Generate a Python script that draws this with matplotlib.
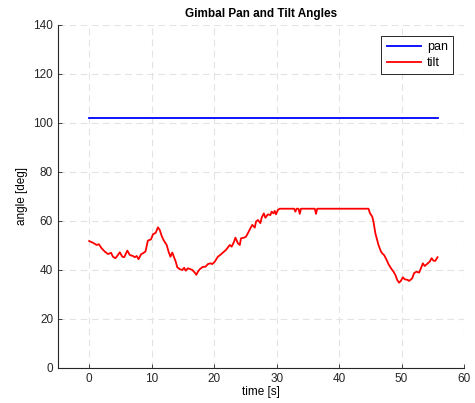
import matplotlib
matplotlib.use('Agg')
import matplotlib.pyplot as plt

# tilt samples (time [s], angle [deg])
tilt_time = [0.0, 0.6, 1.2, 1.55, 2.0, 2.5, 3.0, 3.5, 3.8, 4.2, 4.6, 4.9, 5.3, 5.6,
             6.1, 6.5, 7.0, 7.3, 7.6, 7.9, 8.3, 8.6, 9.0, 9.4, 9.9, 10.2, 10.65, 11.0,
             11.3, 11.6, 11.9, 12.4, 12.7, 13.0, 13.3, 13.5, 13.85, 14.1, 14.5, 14.9,
             15.2, 15.45, 15.8, 16.2, 16.5, 16.9, 17.15, 17.4, 17.7, 18.2, 18.6, 19.0,
             19.4, 19.7, 20.1, 20.6, 21.1, 21.9, 22.5, 22.8, 23.2, 23.4, 23.8, 24.1,
             24.3, 24.8, 25.1, 25.4, 25.8, 26.1, 26.5, 26.7, 27.0, 27.4, 27.6, 27.95,
             28.2, 28.6, 29.0, 29.2, 29.5, 29.7, 29.9, 30.2, 30.5, 32.8, 33.0, 33.2,
             33.5, 33.7, 33.9, 36.1, 36.3, 36.5, 44.7, 44.95, 45.3, 45.5, 45.8, 46.1,
             46.3, 46.7, 47.0, 47.2, 47.6, 47.9, 48.3, 48.7, 49.0, 49.3, 49.6, 49.9,
             50.2, 50.5, 51.0, 51.2, 51.7, 52.0, 52.4, 52.8, 53.1, 53.4, 53.7, 54.2,
             54.5, 54.8, 55.1, 55.4, 55.75]
tilt_angle = [51.8, 51.1, 50.2, 50.5, 48.8, 47.5, 46.5, 47.0, 45.4, 44.8, 46.1, 47.2,
              45.4, 45.2, 47.9, 46.1, 45.7, 45.2, 45.7, 44.4, 46.4, 46.8, 47.5, 52.0,
              52.5, 54.5, 55.2, 57.4, 56.3, 53.9, 52.2, 50.2, 47.5, 45.4, 47.1, 45.7,
              43.4, 41.1, 40.3, 40.0, 40.9, 39.7, 40.7, 40.3, 40.0, 38.9, 38.0, 39.3,
              40.3, 41.3, 41.3, 42.4, 42.7, 42.4, 43.4, 45.4, 46.4, 48.2, 50.2, 49.5,
              51.6, 53.2, 50.9, 50.2, 52.9, 53.2, 53.6, 55.0, 57.0, 58.4, 57.3, 59.7,
              60.4, 59.1, 61.3, 63.1, 61.3, 62.7, 62.4, 63.8, 63.1, 64.1, 62.7, 64.5,
              65.0, 65.0, 63.8, 65.0, 65.0, 62.9, 65.0, 65.0, 62.9, 65.0, 65.0, 63.1,
              61.8, 59.7, 55.0, 52.2, 50.2, 47.5, 46.5, 46.1, 44.1, 42.4, 40.7, 39.3,
              38.0, 35.9, 34.8, 35.6, 37.0, 36.2, 35.9, 35.5, 36.6, 38.7, 39.3, 38.9,
              40.7, 42.7, 41.6, 42.7, 43.4, 44.8, 43.8, 43.7, 45.2]

pan_time = [0.0, 55.75]
pan_angle = [102.0, 102.0]

xticks = [0, 10, 20, 30, 40, 50, 60]
yticks = [0, 20, 40, 60, 80, 100, 120, 140]

plt.rcParams['font.family'] = ['Liberation Sans', 'DejaVu Sans']

fig = plt.figure(figsize=(4.75, 4.03), dpi=100)
ax = fig.add_axes([0.122, 0.087, 0.855, 0.851])

ax.plot(pan_time, pan_angle, color='#0000ff', lw=1.3, label='pan')
ax.plot(tilt_time, tilt_angle, color='#ff0000', lw=1.3, label='tilt')

ax.set_xlim(-5, 60)
ax.set_ylim(0, 140)
ax.set_xticks(xticks)
ax.set_yticks(yticks)
ax.grid(True, color='#e3e3e3', linestyle=(0, (6, 4)), lw=0.8)
ax.set_axisbelow(True)

for side in ['top', 'right']:
    ax.spines[side].set_visible(False)
for side in ['left', 'bottom']:
    ax.spines[side].set_color('#262626')
    ax.spines[side].set_linewidth(0.8)
ax.tick_params(direction='in', length=3, width=0.6, colors='#262626', labelsize=8.5)

ax.set_xlabel('time [s]', fontsize=8.5, labelpad=1)
ax.set_ylabel('angle [deg]', fontsize=8.5, labelpad=4)
ax.set_title('Gimbal Pan and Tilt Angles', fontsize=8.5, fontweight='bold', pad=6)

leg = ax.legend(loc='upper right', fontsize=8.5, fancybox=False, framealpha=1,
                edgecolor='#262626', borderpad=0.45, handlelength=2.9,
                handletextpad=0.5, labelspacing=0.3, borderaxespad=0,
                bbox_to_anchor=(0.973, 0.968))
leg.get_frame().set_linewidth(0.7)
for t in leg.get_texts():
    t.set_fontsize(9)

fig.savefig('out.png', dpi=100)
